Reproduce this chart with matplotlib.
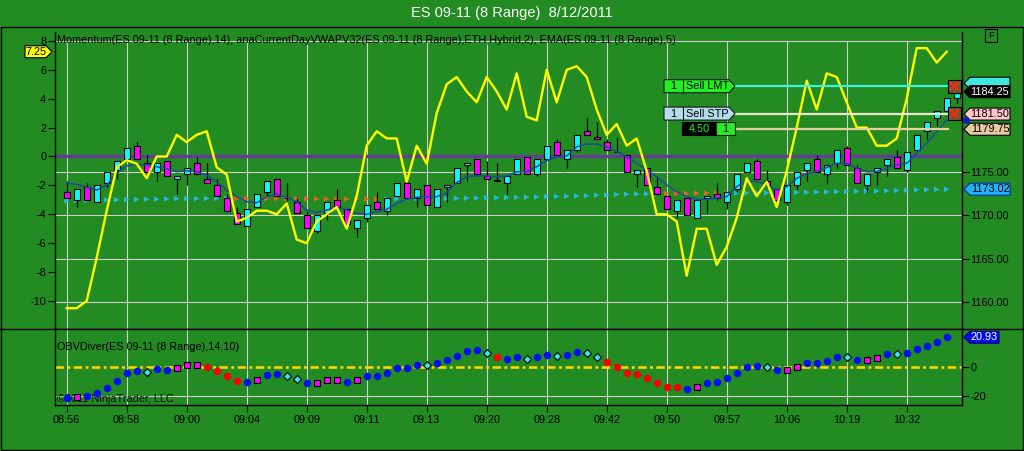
import matplotlib
matplotlib.use('Agg')
import matplotlib.pyplot as plt
from matplotlib.patches import Polygon, Rectangle
from matplotlib.lines import Line2D
from matplotlib.transforms import Affine2D, blended_transform_factory

plt.rcParams['font.family'] = ['Liberation Sans', 'DejaVu Sans']

# ---- data (bar index 0 = 08:56) ----
opens = [1172.75, 1171.75, 1173.25, 1171.5, 1173.75, 1175.25, 1176.5, 1178.0, 1176.0, 1175.0,
         1176.25, 1174.25, 1174.75, 1176.0, 1174.25, 1173.5, 1172.0, 1170.25, 1168.75, 1171.0,
         1172.75, 1174.25, 1172.0, 1171.5, 1170.0, 1168.25, 1170.25, 1171.75, 1170.75, 1168.5,
         1169.75, 1171.5, 1170.5, 1172.25, 1173.75, 1172.0, 1173.5, 1171.0, 1173.25, 1173.75,
         1175.75, 1176.5, 1174.5, 1174.0, 1173.75, 1174.75, 1176.75, 1174.75, 1176.5, 1178.5,
         1176.5, 1177.5, 1179.75, 1179.0, 1178.5, 1177.25, 1177.0, 1174.75, 1175.5, 1173.25,
         1172.25, 1170.5, 1172.0, 1169.75, 1172.0, 1172.5, 1171.5, 1173.0, 1175.0, 1176.25,
         1174.0, 1173.0, 1171.5, 1173.5, 1175.25, 1176.5, 1174.75, 1176.0, 1177.75, 1175.5,
         1173.5, 1175.0, 1175.75, 1176.75, 1175.25, 1177.5, 1179.75, 1181.25, 1182.0, 1183.5]
highs = [1174.0, 1173.0, 1173.75, 1173.5, 1175.0, 1176.25, 1177.75, 1178.5, 1177.0, 1176.0,
         1176.25, 1174.5, 1175.5, 1176.75, 1176.0, 1174.25, 1172.5, 1171.0, 1170.75, 1172.5,
         1174.0, 1174.25, 1173.75, 1172.0, 1170.5, 1170.0, 1171.5, 1173.0, 1170.75, 1169.5,
         1171.25, 1172.75, 1172.0, 1173.75, 1174.0, 1173.0, 1173.5, 1173.0, 1173.5, 1175.5,
         1176.0, 1176.5, 1176.25, 1176.0, 1174.5, 1176.5, 1176.75, 1176.5, 1178.0, 1178.75,
         1177.5, 1179.25, 1181.25, 1180.75, 1178.75, 1179.0, 1177.0, 1175.25, 1175.5, 1174.5,
         1172.25, 1171.75, 1172.0, 1171.75, 1172.25, 1173.75, 1172.75, 1174.75, 1176.0, 1176.5,
         1175.25, 1173.0, 1173.5, 1175.0, 1176.0, 1177.0, 1175.75, 1177.5, 1178.0, 1175.75,
         1174.75, 1175.5, 1176.5, 1177.5, 1177.25, 1179.25, 1180.75, 1182.0, 1183.5, 1184.25]
lows = [1172.0, 1171.0, 1171.75, 1171.5, 1173.25, 1174.25, 1176.25, 1176.5, 1175.0, 1174.0,
        1174.5, 1172.5, 1173.5, 1174.75, 1173.75, 1172.25, 1170.5, 1169.0, 1168.75, 1171.0,
        1172.25, 1172.25, 1171.75, 1170.25, 1168.5, 1168.0, 1169.5, 1171.0, 1169.0, 1167.5,
        1169.25, 1170.75, 1170.0, 1172.25, 1172.0, 1171.0, 1171.25, 1171.0, 1171.5, 1173.75,
        1174.0, 1174.75, 1174.25, 1174.0, 1172.5, 1174.75, 1174.75, 1174.5, 1176.5, 1177.0,
        1175.5, 1177.25, 1179.25, 1178.75, 1177.5, 1177.25, 1175.0, 1173.25, 1173.5, 1172.5,
        1170.75, 1169.75, 1170.0, 1169.75, 1170.25, 1171.75, 1170.75, 1172.75, 1175.0, 1174.25,
        1173.5, 1171.75, 1171.25, 1173.0, 1174.0, 1175.0, 1173.75, 1175.5, 1175.75, 1173.75,
        1172.75, 1173.5, 1174.5, 1175.5, 1175.0, 1177.25, 1178.75, 1180.25, 1182.0, 1183.0]
closes = [1172.0, 1173.0, 1171.75, 1173.5, 1175.0, 1176.25, 1177.75, 1176.5, 1175.0, 1176.0,
          1174.5, 1174.5, 1175.5, 1174.75, 1173.75, 1172.25, 1170.5, 1169.0, 1170.75, 1172.5,
          1174.0, 1172.25, 1172.0, 1170.25, 1168.5, 1170.0, 1171.5, 1171.0, 1169.0, 1169.5,
          1171.25, 1170.75, 1172.0, 1173.75, 1172.0, 1173.0, 1171.25, 1173.0, 1173.5, 1175.5,
          1176.0, 1174.75, 1174.25, 1174.0, 1174.5, 1176.5, 1174.75, 1176.5, 1178.0, 1177.0,
          1177.5, 1179.25, 1179.25, 1178.75, 1177.5, 1177.25, 1175.0, 1175.25, 1173.5, 1172.5,
          1170.75, 1171.75, 1170.0, 1171.75, 1172.25, 1172.0, 1172.75, 1174.75, 1176.0, 1174.25,
          1173.5, 1171.75, 1173.5, 1175.0, 1176.0, 1175.0, 1175.75, 1177.5, 1175.75, 1173.75,
          1174.75, 1175.5, 1176.5, 1175.5, 1177.25, 1179.25, 1180.75, 1182.0, 1183.5, 1184.25]

ema5 = [1173.70, 1173.58, 1173.24, 1172.93, 1173.50, 1174.85, 1175.73, 1175.89, 1175.81, 1175.61,
        1175.35, 1175.03, 1175.15, 1175.03, 1174.65, 1173.88, 1172.93, 1172.15, 1171.58, 1171.46,
        1172.15, 1172.47, 1172.09, 1171.58, 1170.62, 1170.31, 1170.62, 1170.93, 1170.62, 1170.24,
        1170.12, 1170.43, 1170.70, 1171.39, 1171.85, 1172.09, 1172.15, 1172.15, 1172.62, 1173.77,
        1174.46, 1174.57, 1174.54, 1174.46, 1174.54, 1175.03, 1175.03, 1175.61, 1176.30, 1176.76,
        1176.84, 1177.91, 1178.23, 1178.23, 1177.91, 1177.34, 1176.76, 1176.00, 1175.23, 1174.46,
        1173.50, 1172.73, 1172.15, 1171.85, 1171.85, 1172.00, 1172.15, 1173.31, 1174.08, 1173.88,
        1173.50, 1172.93, 1173.31, 1174.27, 1174.85, 1175.03, 1175.50, 1176.00, 1176.00, 1175.43,
        1175.03, 1175.03, 1175.43, 1175.81, 1176.00, 1177.15, 1178.31, 1179.64, 1180.99]

vwap = [1171.70, 1171.72, 1171.74, 1171.76, 1171.78, 1171.80, 1171.82, 1171.84, 1171.86, 1171.88,
        1171.90, 1171.92, 1171.93, 1171.94, 1171.95, 1171.96, 1171.96, 1171.95, 1171.94, 1171.94,
        1171.93, 1171.93, 1171.92, 1171.92, 1171.91, 1171.90, 1171.90, 1171.90, 1171.89, 1171.88,
        1171.88, 1171.88, 1171.88, 1171.89, 1171.90, 1171.91, 1171.92, 1171.93, 1171.94, 1171.96,
        1171.98, 1172.00, 1172.02, 1172.04, 1172.06, 1172.08, 1172.10, 1172.12, 1172.15, 1172.18,
        1172.21, 1172.24, 1172.28, 1172.32, 1172.36, 1172.40, 1172.43, 1172.46, 1172.48, 1172.50,
        1172.51, 1172.52, 1172.53, 1172.54, 1172.55, 1172.55, 1172.56, 1172.57, 1172.58, 1172.59,
        1172.60, 1172.62, 1172.63, 1172.65, 1172.67, 1172.69, 1172.71, 1172.73, 1172.75, 1172.77,
        1172.79, 1172.81, 1172.84, 1172.87, 1172.90, 1172.94, 1172.97, 1173.00, 1173.02]
vwap_below = list(range(17, 32)) + list(range(60, 67))   # bars where VWAP plots orange

momentum = [-10.5, -10.5, -10, -7, -3.75, -0.75, -0.25, -0.5, -1.5, 0,
            0, 1.5, 1, 1.5, 1.75, -0.75, -1.25, -4.5, -4.25, -3.75,
            -3.75, -4, -3.25, -5.75, -6, -4.5, -4, -3.5, -5, -2.75,
            0.75, 1.75, 1.25, 1.25, -1.75, 0.75, -0.5, 3, 5, 5.5,
            4.5, 3.75, 5.5, 4.5, 3.25, 5.75, 2.75, 2.5, 6, 3.75,
            6, 6.25, 5.5, 3.25, 1.5, 2.25, 0.75, 1.25, -1, -4,
            -4, -4.5, -8.25, -5, -5, -7.5, -6.25, -4.25, -1.5, -2.75,
            -1.75, -3.5, -1, 2, 5.25, 3.25, 5.75, 5.5, 3.75, 2,
            2, 0.75, 0.75, 1.25, 4, 7.5, 7.5, 6.5, 7.25]

obv = [-21.2, -20.5, -19.8, -17.7, -14.2, -9.5, -4.2, -2.3, -3.5, -1.2,
       -1.9, -0.5, 1.6, 1.6, 0.4, -2.3, -5.8, -9.5, -10.0, -9.1,
       -5.1, -4.4, -6.1, -8.4, -10.7, -11.2, -9.1, -9.1, -10.0, -9.1,
       -5.8, -5.8, -4.0, -0.2, -0.2, 1.8, 1.4, 3.2, 5.1, 7.9,
       11.6, 12.1, 9.8, 7.4, 6.0, 7.2, 5.6, 7.0, 8.8, 7.9,
       8.8, 10.9, 9.8, 7.2, 3.9, 0.4, -4.2, -4.9, -7.2, -10.7,
       -13.5, -13.5, -15.1, -13.9, -10.7, -10.0, -7.2, -3.8, 0.4, 1.1,
       0.0, -1.9, -2.1, 0.2, 2.8, 3.2, 4.4, 7.4, 7.4, 5.1,
       5.1, 6.5, 9.3, 9.3, 10.2, 12.5, 15.1, 17.6, 20.93]
# b = blue dot, r = red dot, m = magenta square, c = cyan diamond
obv_kind = list('bmbbbbbbcb' 'bmmmrrrrbm' 'bbccbmmmbm' 'bbbbbbcbbb'
                'bbcrbbcbbc' 'bbccrrrrrr' 'rrbmbbbbbb' 'cbmmbbbbcb' 'mmbcbbbbb')

time_labels = ['08:56', '08:58', '09:00', '09:04', '09:09', '09:11', '09:13', '09:20',
               '09:28', '09:42', '09:50', '09:57', '10:06', '10:19', '10:32']
label_bars = list(range(0, 85, 6))

price_grid = [1160, 1165, 1170, 1175]
mom_top = 8
sell_lmt, sell_stp, entry = 1185.00, 1181.50, 1179.75
pnl_text = '4.50'

# ---- layout in pixels ----
W, H = 1024, 451
BG = '#228b22'
fig = plt.figure(figsize=(W / 100, H / 100), dpi=100, facecolor=BG)
px = Affine2D().scale(1.0 / W, -1.0 / H).translate(0, 1) + fig.transFigure


def rect(x0, y0, x1, y1):
    return [x0 / W, 1 - y1 / H, (x1 - x0) / W, (y1 - y0) / H]


ax_p = fig.add_axes(rect(54.5, 32, 962, 329), facecolor=BG)
ax_m = ax_p.twinx()
ax_o = fig.add_axes(rect(54.5, 329, 962, 405), facecolor=BG)

xlim = (-1.22, 89.53)
ax_p.set_xlim(*xlim)
ax_o.set_xlim(*xlim)
ax_p.set_ylim(1156.912, 1191.129)
ax_m.set_ylim(-11.938, 8.616)
ax_o.set_ylim(-26.27, 26.69)

GRID = '#cfcfcf'
grid_top = (329 - 40.5) / (329 - 32)
for b in label_bars:
    ax_p.axvline(b, ymax=grid_top, color=GRID, lw=0.8, zorder=0)
    ax_o.axvline(b, color=GRID, lw=0.8, zorder=0)
for g in price_grid:
    ax_p.axhline(g, color=GRID, lw=0.8, zorder=0)
ax_p.plot([0, 1], [mom_top, mom_top], color=GRID, lw=0.8, zorder=0,
          transform=blended_transform_factory(ax_p.transAxes, ax_m.transData))
ax_o.axhline(-20, color=GRID, lw=0.8, zorder=0)

# momentum zero line, drawn under the candles
ax_p.plot([0, 1], [0, 0], color='#653c98', lw=2.4, zorder=1,
          transform=blended_transform_factory(ax_p.transAxes, ax_m.transData))

# VWAP
idx_ind = list(range(len(vwap)))
vcol = ['#e8641e' if i in vwap_below else '#27b8e0' for i in idx_ind]
ax_p.scatter(idx_ind, vwap, marker='>', s=16, c=vcol, linewidths=0, zorder=2)

# candles
idx = list(range(len(closes)))
ax_p.vlines(idx, lows, highs, color='black', lw=0.9, zorder=3)
bottoms, heights, cols = [], [], []
for o, c in zip(opens, closes):
    bottoms.append(min(o, c))
    heights.append(max(abs(c - o), 0.06))
    cols.append('#00ffff' if c > o else ('#ff00ff' if c < o else '#1a237e'))
ax_p.bar(idx, heights, bottom=bottoms, width=0.62, color=cols, edgecolor='black',
         linewidth=0.8, zorder=4)

ax_p.plot(idx_ind, ema5, color='#1e4a9e', lw=1.1, zorder=5)
ax_m.plot(idx_ind, momentum, color='#ffff00', lw=1.7, zorder=6)

# OBV panel
ax_o.axhline(0, color='#ffd400', lw=1.9, ls=(0, (3.2, 1.3, 1.1, 1.3)), zorder=1)
styles = {'b': dict(marker='o', color='#0010f0', ms=5.4, mec='#0010f0', mew=0),
          'r': dict(marker='o', color='#ff0000', ms=5.4, mec='#ff0000', mew=0),
          'm': dict(marker='s', color='#ff00ff', ms=5.0, mec='black', mew=0.8),
          'c': dict(marker='D', color='#33e6f0', ms=4.4, mec='black', mew=0.8)}
for i, (v, k) in enumerate(zip(obv, obv_kind)):
    ax_o.plot([i], [v], ls='none', zorder=4, **styles[k])
ax_o.text(57, 399, '\u00a92011 NinjaTrader, LLC', transform=px, fontsize=7.8,
          va='center', color='#101010', zorder=2)

# ---- axes, ticks ----
ax_p.yaxis.tick_right()
ax_m.yaxis.tick_left()
ax_p.set_yticks(price_grid)
ax_p.set_yticklabels(['%.2f' % g for g in price_grid])
ax_m.set_yticks(list(range(-10, 9, 2)))
ax_m.set_yticklabels([str(t) for t in range(-10, 9, 2)])
ax_p.tick_params(axis='x', bottom=False, labelbottom=False)
ax_p.tick_params(axis='y', length=5, width=0.8, pad=1, labelsize=7.8, colors='black')
ax_m.tick_params(axis='y', length=5, width=0.8, pad=1, labelsize=7.8, colors='black')

ax_o.set_xticks(label_bars)
ax_o.set_xticklabels(time_labels)
ax_o.yaxis.tick_right()
ax_o.set_yticks([0, -20])
ax_o.set_yticklabels(['0', '-20'])
ax_o.tick_params(axis='x', length=5, width=0.8, pad=2, labelsize=7.8, colors='black')
ax_o.tick_params(axis='y', length=5, width=0.8, pad=1, labelsize=7.8, colors='black')

for s in ax_m.spines.values():
    s.set_visible(False)
for ax in (ax_p, ax_o):
    for s in ax.spines.values():
        s.set_color('black')
        s.set_linewidth(1)
ax_p.spines['top'].set_visible(False)
ax_o.spines['top'].set_visible(False)

# frame lines
fig.add_artist(Rectangle((1, 27), 1022, 423, transform=px, fill=False, ec='black', lw=1))
fig.add_artist(Line2D([0, W], [329, 329], transform=px, color='black', lw=1))

# ---- texts ----
fig.text(512, 13, 'ES 09-11 (8 Range)  8/12/2011', transform=px, ha='center', va='center',
         color='white', fontsize=10.5)
fig.text(57, 40, 'Momentum(ES 09-11 (8 Range),14), anaCurrentDayVWAPV32(ES 09-11 (8 Range),'
         'ETH,Hybrid,2), EMA(ES 09-11 (8 Range),5)', transform=px, va='center',
         fontsize=7.8, color='black')
fig.text(57, 347, 'OBVDiver(ES 09-11 (8 Range),14,10)', transform=px, va='center',
         fontsize=7.8, color='black')


def ypx(ax, v):
    return H - ax.transData.transform((0, v))[1]


def tag_right(y, text, face, tcolor='black', edge='black', x0=964, x1=1010, h=12):
    verts = [(x0, y), (x0 + 6, y - h / 2), (x1, y - h / 2), (x1, y + h / 2), (x0 + 6, y + h / 2)]
    fig.add_artist(Polygon(verts, closed=True, transform=px, fc=face, ec=edge, lw=0.8, zorder=10))
    fig.text((x0 + 6 + x1) / 2, y, text, transform=px, ha='center', va='center',
             fontsize=7.8, color=tcolor, zorder=11)


# momentum value tag on the left
ym = ypx(ax_m, momentum[-1])
fig.add_artist(Polygon([(25, ym - 6), (46, ym - 6), (52, ym), (46, ym + 6), (25, ym + 6)],
                       transform=px, fc='#ffff00', ec='black', lw=0.8, zorder=10))
fig.text(36, ym, '%.2f' % momentum[-1], transform=px, ha='center', va='center',
         fontsize=7.8, color='black', zorder=11)

# price tags on the right
tag_right(ypx(ax_p, sell_lmt) - 2, '', '#3ee8e0')
tag_right(ypx(ax_p, closes[-1]), '%.2f' % closes[-1], 'black', tcolor='white')
tag_right(ypx(ax_p, sell_stp) - 1.5, '%.2f' % sell_stp, '#ffc6cc')
tag_right(ypx(ax_p, entry) - 1.5, '%.2f' % entry, '#e8c9a0')
tag_right(ypx(ax_p, vwap[-1]), '%.2f' % vwap[-1], '#22b2f5', edge='#0b2f9a')
tag_right(ypx(ax_o, obv[-1]), '%.2f' % obv[-1], '#0010e0', tcolor='white', edge='#000080', x1=999)
fig.add_artist(Line2D([966], [ypx(ax_p, ema5[-1])], transform=px, marker='o', ms=4,
                      color='#1020c0', zorder=12))


# order lines with their labels
def order_tag(y, face, text):
    fig.add_artist(Polygon([(664, y - 6.5), (729, y - 6.5), (735, y), (729, y + 6.5), (664, y + 6.5)],
                           transform=px, fc=face, ec='#1a1a1a', lw=0.8, zorder=10))
    fig.add_artist(Line2D([682.7, 682.7], [y - 6.5, y + 6.5], transform=px, color='#1a1a1a',
                          lw=0.8, zorder=11))
    fig.text(673.3, y, '1', transform=px, ha='center', va='center', fontsize=7.8, zorder=11)
    fig.text(685.5, y, text, transform=px, ha='left', va='center', fontsize=7.8, zorder=11)


def x_box(y):
    fig.add_artist(Rectangle((947.5, y - 6.5), 13.5, 13, transform=px, fc='#6a5a2c',
                             ec='black', lw=0.8, zorder=10))
    for a, b in (((950.5, y - 3.5), (958, y + 3.5)), ((950.5, y + 3.5), (958, y - 3.5))):
        fig.add_artist(Line2D([a[0], b[0]], [a[1], b[1]], transform=px, color='#ff2a10',
                              lw=1.5, zorder=11))


y_lmt = ypx(ax_p, sell_lmt) + 1
y_stp = ypx(ax_p, sell_stp) - 2
y_ent = ypx(ax_p, entry) - 2
fig.add_artist(Line2D([735, 948], [y_lmt, y_lmt], transform=px, color='#40f0d8', lw=1.6, zorder=9))
fig.add_artist(Line2D([735, 948], [y_stp, y_stp], transform=px, color='#ede6cc', lw=1.6, zorder=9))
fig.add_artist(Line2D([735, 948], [y_ent, y_ent], transform=px, color='#e8cfa0', lw=1.6, zorder=9))
order_tag(y_lmt, '#22ee22', 'Sell LMT')
order_tag(y_stp, '#b4dcec', 'Sell STP')
fig.add_artist(Rectangle((681.7, y_ent - 6.5), 34.3, 13, transform=px, fc='black', ec='black',
                         lw=0.8, zorder=10))
fig.add_artist(Rectangle((716, y_ent - 6.5), 19, 13, transform=px, fc='#22ee22', ec='#1a1a1a',
                         lw=0.8, zorder=10))
fig.text(699, y_ent, pnl_text, transform=px, ha='center', va='center', fontsize=7.8,
         color='#22ee22', zorder=11)
fig.text(725.5, y_ent, '1', transform=px, ha='center', va='center', fontsize=7.8, zorder=11)
x_box(y_lmt)
x_box(y_stp)

# "F" button
fig.add_artist(Rectangle((985, 29), 12, 13, transform=px, fill=False, ec='black', lw=0.8))
fig.text(991, 35.5, 'F', transform=px, ha='center', va='center', fontsize=6.5, color='black')

fig.savefig('out.png', dpi=100, facecolor=BG)
